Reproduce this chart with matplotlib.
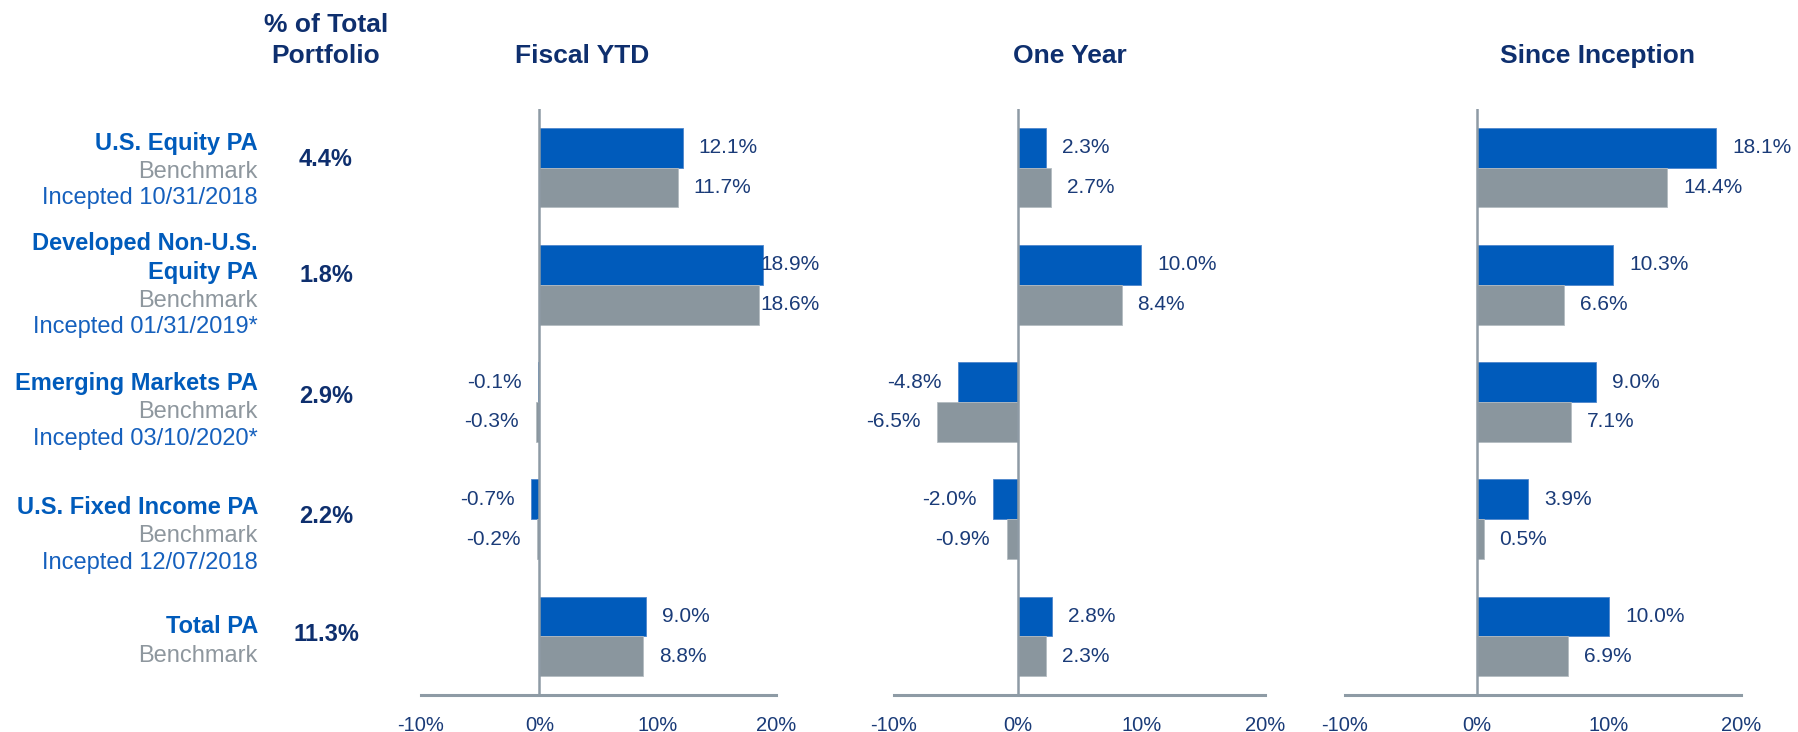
import numpy as np
import matplotlib
matplotlib.use("Agg")
import matplotlib.pyplot as plt
from matplotlib.ticker import FixedLocator

plt.rcParams['font.family'] = ['Liberation Sans', 'DejaVu Sans']

# data
listGroup = ["U.S. Equity PA", "Developed Non-U.S. Equity PA", "Emerging Markets PA",
             "U.S. Fixed Income PA", "Total PA"]
listWeight = ["4.4%", "1.8%", "2.9%", "2.2%", "11.3%"]
listPeriod = ["Fiscal YTD", "One Year", "Since Inception"]
fiscalPA = [12.1, 18.9, -0.1, -0.7, 9.0]
fiscalBM = [11.7, 18.6, -0.3, -0.2, 8.8]
oneYearPA = [2.3, 10.0, -4.8, -2.0, 2.8]
oneYearBM = [2.7, 8.4, -6.5, -0.9, 2.3]
inceptPA = [18.1, 10.3, 9.0, 3.9, 10.0]
inceptBM = [14.4, 6.6, 7.1, 0.5, 6.9]
listTicks = [-10, 0, 10, 20]
listTickLabels = ["-10%", "0%", "10%", "20%"]

# row labels: (text, kind)  kind: 'pa' bold blue, 'bm' gray, 'inc' blue
listRowText = [
	[("U.S. Equity PA", "pa"), ("Benchmark", "bm"), ("Incepted 10/31/2018", "inc")],
	[("Developed Non-U.S.", "pa"), ("Equity PA", "pa"), ("Benchmark", "bm"), ("Incepted 01/31/2019*", "inc")],
	[("Emerging Markets PA", "pa"), ("Benchmark", "bm"), ("Incepted 03/10/2020*", "inc")],
	[("U.S. Fixed Income PA", "pa"), ("Benchmark", "bm"), ("Incepted 12/07/2018", "inc")],
	[("Total PA", "pa"), ("Benchmark", "bm")],
]
# baselines in pixels from top
listRowBase = [[150, 178, 204], [250, 279, 307, 333], [390, 418, 445], [514, 542, 569], [633, 662]]
listWeightBase = [166, 282, 403, 523, 641]

BLUE = "#005BBB"
GRAY = "#8A969E"
NAVY = "#0E2F6E"
VALC = "#1A3B78"
AXC = "#8E9BA5"
TXTGRAY = "#8E979E"
INCBLUE = "#1560BD"

W, H = 1798, 732
fig = plt.figure(figsize=(W / 100.0, H / 100.0), dpi=100)

def fx(px):
	return px / float(W)

def fy(py):
	return 1 - py / float(H)

# headers
fig.text(fx(326), fy(32), "% of Total", ha='center', va='baseline', fontsize=19, fontweight='bold', color=NAVY)
fig.text(fx(326), fy(63), "Portfolio", ha='center', va='baseline', fontsize=19, fontweight='bold', color=NAVY)
listTitleX = [582, 1070, 1598]
for strT, x in zip(listPeriod, listTitleX):
	fig.text(fx(x), fy(63), strT, ha='center', va='baseline', fontsize=19, fontweight='bold', color=NAVY)

dictStyle = {"pa": dict(fontweight='bold', color=BLUE),
             "bm": dict(color=TXTGRAY),
             "inc": dict(color=INCBLUE)}
for rows, bases in zip(listRowText, listRowBase):
	for (strT, kind), b in zip(rows, bases):
		fig.text(fx(258), fy(b), strT, ha='right', va='baseline', fontsize=17, **dictStyle[kind])

for strW, b in zip(listWeight, listWeightBase):
	fig.text(fx(326), fy(b), strW, ha='center', va='baseline', fontsize=17, fontweight='bold', color=NAVY)

# axes: left px, right px
listAxPx = [(421, 776), (894, 1265), (1345, 1741)]
listPA = [fiscalPA, oneYearPA, inceptPA]
listBM = [fiscalBM, oneYearBM, inceptBM]
listCap = [17.3, None, None]  # keep labels from running off the panel
yTop, yBot = 109, 695

y = np.arange(len(listGroup))
h = 0.34
for (l, r), pa, bm, cap in zip(listAxPx, listPA, listBM, listCap):
	ax = fig.add_axes([fx(l), fy(yBot), (r - l) / float(W), (yBot - yTop) / float(H)])
	ax.barh(y - h / 2, pa, height=h, color=BLUE, edgecolor='#4F86CC', linewidth=0.6, zorder=2)
	ax.barh(y + h / 2, bm, height=h, color=GRAY, edgecolor='#B4BCC2', linewidth=0.6, zorder=2)
	ax.axvline(0, color=AXC, linewidth=1.8, zorder=3)
	ax.set_xlim(-10, 20)
	ax.set_ylim(4.5, -0.5)
	for vals, yy in ((pa, y - h / 2), (bm, y + h / 2)):
		for v, yv in zip(vals, yy):
			xv = v
			if cap is not None and v > cap:
				xv = cap
			if v >= 0:
				ax.annotate("%.1f%%" % v, (xv, yv), xytext=(11.5, 0), textcoords='offset points',
				            ha='left', va='center', fontsize=15, color=VALC, annotation_clip=False)
			else:
				ax.annotate("%.1f%%" % v, (xv, yv), xytext=(-12, 0), textcoords='offset points',
				            ha='right', va='center', fontsize=15, color=VALC, annotation_clip=False)
	for s in ['top', 'right', 'left']:
		ax.spines[s].set_visible(False)
	ax.spines['bottom'].set_color(AXC)
	ax.spines['bottom'].set_linewidth(2.2)
	ax.set_yticks([])
	ax.xaxis.set_major_locator(FixedLocator(listTicks))
	ax.set_xticklabels(listTickLabels)
	ax.tick_params(axis='x', length=0, pad=15, labelsize=14.5, labelcolor=VALC)
	ax.patch.set_alpha(0)

plt.savefig("out.png", dpi=100)
